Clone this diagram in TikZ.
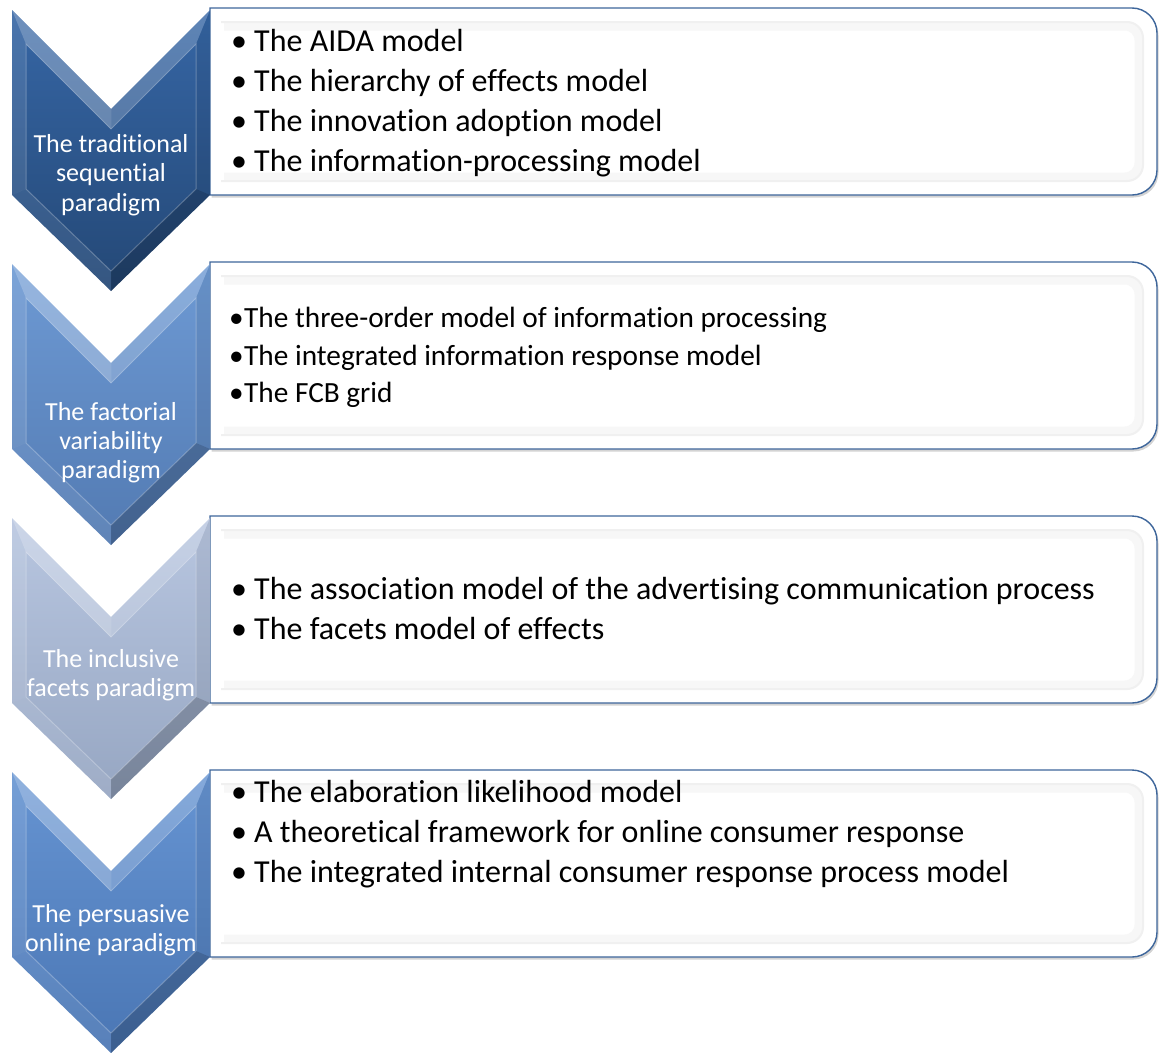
\documentclass[tikz,border=0pt]{standalone}
\usepackage{fontspec}
\setmainfont{Carlito}[Ligatures=NoCommon]
\usetikzlibrary{shadows}
\definecolor{cOneT}{RGB}{54,102,165}
\definecolor{cOneB}{RGB}{36,72,118}
\definecolor{cTwoT}{RGB}{110,154,212}
\definecolor{cTwoB}{RGB}{82,122,178}
\definecolor{cThreeT}{RGB}{184,198,224}
\definecolor{cThreeB}{RGB}{150,166,194}
\definecolor{cFourT}{RGB}{102,148,210}
\definecolor{cFourB}{RGB}{74,118,180}
\definecolor{boxline}{RGB}{62,102,155}
\tikzset{
  chevtext/.style={text=white,font=\fontsize{26}{26}\selectfont,inner sep=0pt,anchor=base},
  bul/.style={anchor=base west,inner sep=0pt,font=\fontsize{32}{32}\selectfont},
  itm/.style={anchor=base west,inner sep=0pt,font=\fontsize{32}{32}\selectfont},
  bulsmall/.style={bul,font=\fontsize{29.3}{29.3}\selectfont},
  itmsmall/.style={itm,font=\fontsize{29.3}{29.3}\selectfont},
  boxouter/.style={draw=boxline,line width=1.4pt,fill=white,drop shadow={shadow xshift=1.5pt,shadow yshift=-2.5pt,opacity=.35}},
  boxband/.style={draw=black!3,line width=9pt},
  boxinner/.style={draw=black!6,line width=2pt}
}
% #1 top y, #2 top colour, #3 bottom colour
\newcommand\mychev[3]{%
\begin{scope}[yshift=-#1pt]
\shade[top color=#2,bottom color=#3] (12,0) -- (111,99) -- (210,0) -- (210,185) -- (111,281) -- (12,185) -- cycle;
\fill[white,opacity=.10] (12,0) -- (26,34) -- (26,179) -- (12,185) -- cycle;
\fill[white,opacity=.28] (12,0) -- (111,99) -- (111,119) -- (26,34) -- cycle;
\fill[white,opacity=.20] (111,99) -- (210,0) -- (196,34) -- (111,119) -- cycle;
\fill[black,opacity=.06] (210,0) -- (210,185) -- (196,179) -- (196,34) -- cycle;
\fill[black,opacity=.20] (210,185) -- (111,281) -- (111,261) -- (196,179) -- cycle;
\fill[white,opacity=.08] (12,185) -- (111,281) -- (111,261) -- (26,179) -- cycle;
\draw[white,opacity=.25,line width=1pt] (26,34) -- (111,119) -- (196,34) -- (196,179) -- (111,261) -- (26,179) -- cycle;
\end{scope}}
% #1 top y
\newcommand\mybox[1]{%
\begin{scope}[yshift=-#1pt]
\path[boxouter] (210,0) -- (1100,0) [rounded corners=25] -- (1157,0) -- (1157,187) -- (1100,187) [sharp corners] -- (210,187) -- cycle;
\draw[boxband] (224,18) -- (1100,18) [rounded corners=14] -- (1139,18) -- (1139,169) -- (1100,169) [sharp corners] -- (224,169);
\draw[boxinner] (221,14) -- (1100,14) [rounded corners=16] -- (1143,14) -- (1143,173) -- (1100,173) [sharp corners] -- (221,173);
\end{scope}}
\begin{document}
\begin{tikzpicture}[x=1pt,y=-1pt]
\useasboundingbox (0,0) rectangle (1159,1052);
\mybox{8}
\mybox{262}
\mybox{516}
\mybox{770}
\mychev{772}{cFourT}{cFourB}
\mychev{518}{cThreeT}{cThreeB}
\mychev{264}{cTwoT}{cTwoB}
\mychev{10}{cOneT}{cOneB}
% chevron labels
\node[chevtext] (p1a) at (111,152) {The traditional};
\node[chevtext] (p1b) at (111,181.5) {sequential};
\node[chevtext] (p1c) at (111,211) {paradigm};
\node[chevtext] (p2a) at (111,420) {The factorial};
\node[chevtext] (p2b) at (111,449) {variability};
\node[chevtext] (p2c) at (111,478) {paradigm};
\node[chevtext] (p3a) at (111,667) {The inclusive};
\node[chevtext] (p3b) at (111,696) {facets paradigm};
\node[chevtext] (p4a) at (111,922) {The persuasive};
\node[chevtext] (p4b) at (111,951) {online paradigm};
% box 1
\node[bul] (b1a) at (231,51) {•}; \node[itm] (t1a) at (254,51) {The AIDA model};
\node[bul] (b1b) at (231,91) {•}; \node[itm] (t1b) at (254,91) {The hierarchy of effects model};
\node[bul] (b1c) at (231,131) {•}; \node[itm] (t1c) at (254,131) {The innovation adoption model};
\node[bul] (b1d) at (231,171) {•}; \node[itm] (t1d) at (254,171) {The information-processing model};
% box 2
\node[bulsmall] (b2a) at (229,327) {•}; \node[itmsmall] (t2a) at (244,327) {The three-order model of information processing};
\node[bulsmall] (b2b) at (229,365) {•}; \node[itmsmall] (t2b) at (244,365) {The integrated information response model};
\node[bulsmall] (b2c) at (229,402) {•}; \node[itmsmall] (t2c) at (244,402) {The FCB grid};
% box 3
\node[bul] (b3a) at (231,599) {•}; \node[itm] (t3a) at (254,599) {The association model of the advertising communication process};
\node[bul] (b3b) at (231,639) {•}; \node[itm] (t3b) at (254,639) {The facets model of effects};
% box 4
\node[bul] (b4a) at (231,802) {•}; \node[itm] (t4a) at (254,802) {The elaboration likelihood model};
\node[bul] (b4b) at (231,842) {•}; \node[itm] (t4b) at (254,842) {A theoretical framework for online consumer response};
\node[bul] (b4c) at (231,882) {•}; \node[itm] (t4c) at (254,882) {The integrated internal consumer response process model};
\end{tikzpicture}
\end{document}
